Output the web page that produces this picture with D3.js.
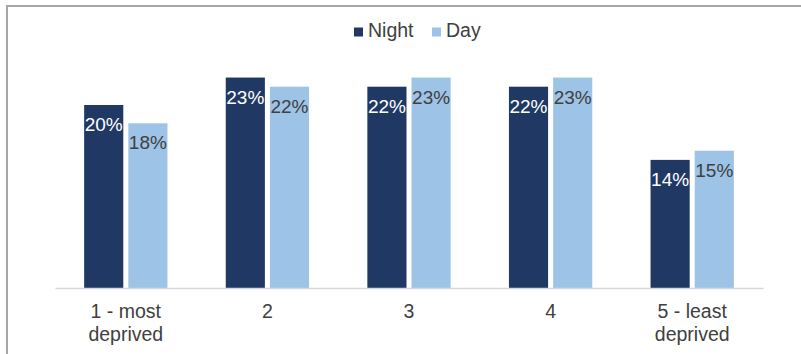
<!DOCTYPE html>
<html>
<head>
<meta charset="utf-8">
<script src="https://cdn.jsdelivr.net/npm/d3@7"></script>
<style>
  html, body { margin: 0; padding: 0; background: #fff; }
  svg { display: block; font-family: "Liberation Sans", Arial, sans-serif; }
</style>
</head>
<body>
<svg id="chart" width="801" height="354"></svg>
<script>
// Share of incidents by deprivation quintile, night vs day
const categories = [["1 - most", "deprived"], ["2"], ["3"], ["4"], ["5 - least", "deprived"]];
const seriesNames = ["Night", "Day"];
const nightValues = [0.20, 0.23, 0.22, 0.22, 0.14];
const dayValues = [0.18, 0.22, 0.23, 0.23, 0.15];
const seriesColors = ["#1f3864", "#9dc3e6"];
const labelColors = ["#ffffff", "#404040"];

const svg = d3.select("#chart");
const W = 801, H = 354;

// outer frame (left and top edges visible)
svg.append("line").attr("x1", 7).attr("x2", 7).attr("y1", 6).attr("y2", H)
  .attr("stroke", "#a6a6a6").attr("stroke-width", 2);
svg.append("line").attr("x1", 6).attr("x2", W).attr("y1", 6).attr("y2", 6)
  .attr("stroke", "#a6a6a6").attr("stroke-width", 2);

const plot = { left: 55, right: 763, top: 59.25, bottom: 288 };
const keys = categories.map(c => c.join(" "));

const x0 = d3.scaleBand().domain(keys).range([plot.left, plot.right]).padding(0);
const x1 = d3.scaleBand().domain(seriesNames).range([0, x0.bandwidth()])
  .paddingInner(0.114).paddingOuter(0.66);
const y = d3.scaleLinear().domain([0, 0.25]).range([plot.bottom, plot.top]);

const rows = keys.map((k, i) => ({ key: k, values: [nightValues[i], dayValues[i]] }));
const fmt = d3.format(".0%");

const groups = svg.append("g").selectAll("g").data(rows).join("g")
  .attr("transform", d => `translate(${x0(d.key)},0)`);

groups.selectAll("rect").data(d => d.values.map((v, j) => ({ s: seriesNames[j], v, j })))
  .join("rect")
  .attr("x", d => x1(d.s))
  .attr("y", d => y(d.v))
  .attr("width", x1.bandwidth())
  .attr("height", d => y(0) - y(d.v))
  .attr("fill", d => seriesColors[d.j]);

groups.selectAll("text.val").data(d => d.values.map((v, j) => ({ s: seriesNames[j], v, j })))
  .join("text")
  .attr("class", "val")
  .attr("x", d => x1(d.s) + x1.bandwidth() / 2)
  .attr("y", d => y(d.v) + 26)
  .attr("text-anchor", "middle")
  .attr("font-size", 19)
  .attr("fill", d => labelColors[d.j])
  .text(d => fmt(d.v));

// category axis
const xAxis = svg.append("g").attr("transform", `translate(0,${plot.bottom})`)
  .call(d3.axisBottom(x0).tickSize(0).tickFormat(""));
xAxis.select(".domain").attr("stroke", "#d9d9d9").attr("stroke-width", 1.5);

const tickText = svg.append("g").selectAll("text").data(categories).join("text")
  .attr("x", (d, i) => x0(keys[i]) + x0.bandwidth() / 2)
  .attr("y", 318)
  .attr("text-anchor", "middle")
  .attr("font-size", 19.5)
  .attr("fill", "#404040");
tickText.selectAll("tspan").data(d => d).join("tspan")
  .attr("x", function () { return this.parentNode.getAttribute("x"); })
  .attr("dy", (d, i) => i === 0 ? 0 : 23)
  .text(d => d);

// legend
const legendX = [354, 432];
const legend = svg.append("g").selectAll("g").data(seriesNames).join("g")
  .attr("transform", (d, i) => `translate(${legendX[i]},0)`);
legend.append("rect").attr("x", 0).attr("y", 27.5).attr("width", 9).attr("height", 9)
  .attr("fill", (d, i) => seriesColors[i]);
legend.append("text").attr("x", 14).attr("y", 37)
  .attr("font-size", 19.5).attr("fill", "#404040").text(d => d);
</script>
</body>
</html>
